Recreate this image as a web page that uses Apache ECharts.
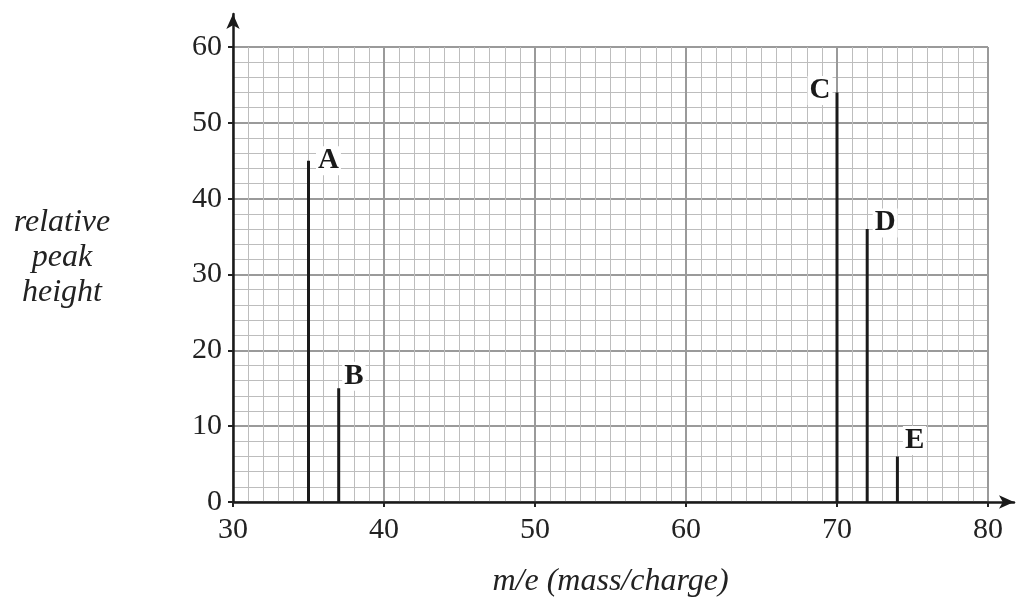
<!DOCTYPE html>
<html><head><meta charset="utf-8">
<script src="https://cdn.jsdelivr.net/npm/echarts@6/dist/echarts.min.js"></script>
<style>html,body{margin:0;padding:0;background:#fff}#c{width:1018px;height:598px}</style>
</head><body><div id="c"></div>
<script>
var peakLabels = ['A', 'B', 'C', 'D', 'E'];
var massCharge = [35, 37, 70, 72, 74];
var peakHeights = [45, 15, 54, 36, 6];
var xTicks = [30, 40, 50, 60, 70, 80];
var yTicks = [0, 10, 20, 30, 40, 50, 60];

var labelPos = {
  A: { position: [9, 0], align: 'left' },
  B: { position: [5, -12], align: 'left' },
  C: { position: [-3, -2], align: 'right' },
  D: { position: [7, -6], align: 'left' },
  E: { position: [7, -16], align: 'left' }
};

var serif = '"Liberation Serif", "DejaVu Serif", serif';
var chart = echarts.init(document.getElementById('c'), null, { renderer: 'canvas' });

var data = massCharge.map(function (m, i) {
  var p = labelPos[peakLabels[i]];
  return {
    value: [m, peakHeights[i]],
    name: peakLabels[i],
    label: { position: p.position, align: p.align }
  };
});

chart.setOption({
  animation: false,
  grid: [
    { left: 233, right: 30, top: 47, bottom: 96, containLabel: false, outerBoundsMode: 'none' },
    { left: 233, right: 4, top: 14, bottom: 96, containLabel: false, outerBoundsMode: 'none' }
  ],
  xAxis: [
    {
      gridIndex: 0, type: 'value', min: xTicks[0], max: xTicks[xTicks.length - 1], interval: 10,
      axisLine: { show: false },
      axisTick: { show: true, length: 5, lineStyle: { color: '#222', width: 2 } },
      axisLabel: { margin: 13, fontFamily: serif, fontSize: 30, color: '#222' },
      splitLine: { show: true, lineStyle: { color: '#9a9a9a', width: 2 } },
      minorTick: { show: true, splitNumber: 10, length: 0 },
      minorSplitLine: { show: true, lineStyle: { color: '#bdbdbd', width: 1 } },
      name: 'm/e (mass/charge)', nameLocation: 'middle', nameGap: 64,
      nameTextStyle: { fontFamily: serif, fontStyle: 'italic', fontSize: 32, color: '#222' }
    },
    {
      gridIndex: 1, type: 'value', min: 0, max: 1,
      axisLine: { show: true, symbol: ['none', 'arrow'], symbolSize: [10, 15], lineStyle: { color: '#1a1a1a', width: 2.5 } },
      axisTick: { show: false }, axisLabel: { show: false }, splitLine: { show: false }
    }
  ],
  yAxis: [
    {
      gridIndex: 0, type: 'value', min: yTicks[0], max: yTicks[yTicks.length - 1], interval: 10,
      axisLine: { show: false },
      axisTick: { show: true, length: 5, lineStyle: { color: '#222', width: 2 } },
      axisLabel: { margin: 11, fontFamily: serif, fontSize: 30, color: '#222' },
      splitLine: { show: true, lineStyle: { color: '#9a9a9a', width: 2 } },
      minorTick: { show: true, splitNumber: 5, length: 0 },
      minorSplitLine: { show: true, lineStyle: { color: '#bdbdbd', width: 1 } }
    },
    {
      gridIndex: 1, type: 'value', min: 0, max: 1,
      axisLine: { show: true, symbol: ['none', 'arrow'], symbolSize: [10, 15], lineStyle: { color: '#1a1a1a', width: 2.5 } },
      axisTick: { show: false }, axisLabel: { show: false }, splitLine: { show: false },
      name: 'relative\npeak\nheight', nameLocation: 'middle', nameGap: 171, nameRotate: 0,
      nameTextStyle: { fontFamily: serif, fontStyle: 'italic', fontSize: 32, color: '#222', lineHeight: 35, align: 'center' }
    }
  ],
  series: [
    {
      type: 'bar', xAxisIndex: 0, yAxisIndex: 0,
      barWidth: 3,
      itemStyle: { color: '#1a1a1a' },
      data: data,
      z: 5,
      label: {
        show: true, formatter: '{b}', verticalAlign: 'middle',
        fontFamily: serif, fontWeight: 'bold', fontSize: 29, color: '#1a1a1a',
        backgroundColor: '#fff', padding: [1, 2, -1, 2]
      }
    }
  ]
});
</script></body></html>
